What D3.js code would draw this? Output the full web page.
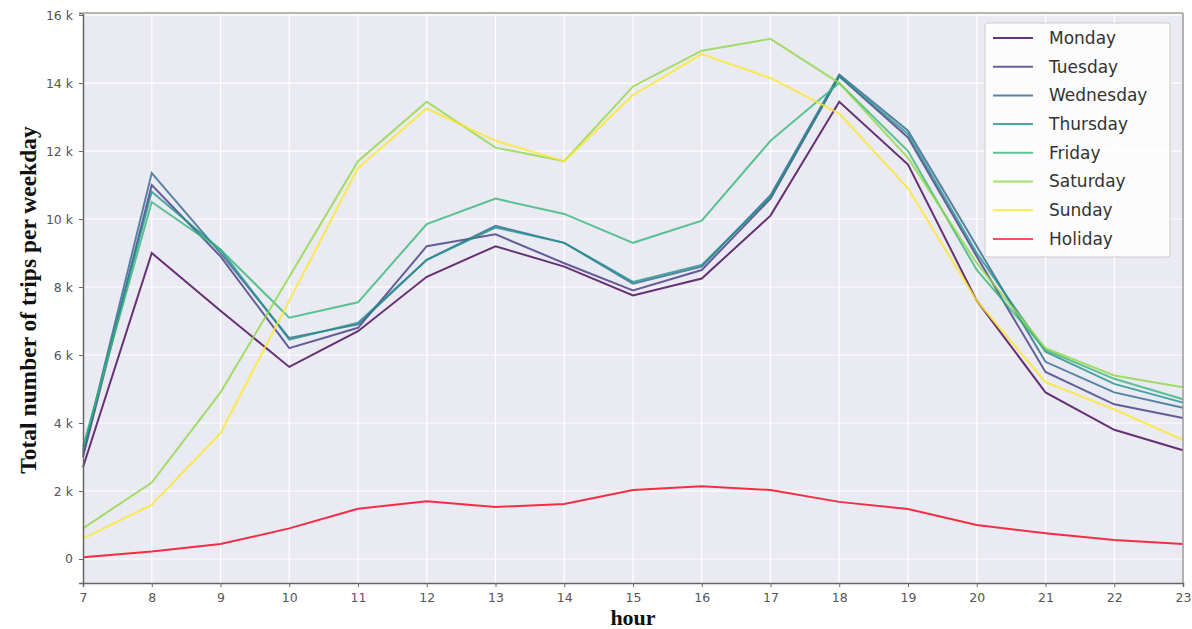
<!DOCTYPE html>
<html>
<head>
<meta charset="utf-8">
<script src="https://cdn.jsdelivr.net/npm/d3@7"></script>
<style>
  body { margin: 0; background: #fff; }
  svg { display: block; }
</style>
</head>
<body>
<svg width="1192" height="629"></svg>
<script>
/* Data */

var hours = [7, 8, 9, 10, 11, 12, 13, 14, 15, 16, 17, 18, 19, 20, 21, 22, 23];
var dayNames = ["Monday", "Tuesday", "Wednesday", "Thursday", "Friday", "Saturday", "Sunday", "Holiday"];

var monday    = [2700, 9000, 7300, 5650, 6700, 8300, 9200, 8600, 7750, 8250, 10100, 13450, 11600, 7600, 4900, 3800, 3200];
var tuesday   = [3000, 11000, 8900, 6200, 6800, 9200, 9550, 8700, 7900, 8500, 10600, 14200, 12400, 8900, 5500, 4550, 4150];
var wednesday = [3100, 11350, 9000, 6500, 6900, 8800, 9800, 9300, 8100, 8600, 10700, 14250, 12600, 9200, 5800, 4900, 4450];
var thursday  = [3200, 10800, 9100, 6450, 6950, 8800, 9750, 9300, 8150, 8650, 10650, 14200, 12500, 9000, 6100, 5150, 4600];
var friday    = [3300, 10500, 9100, 7100, 7550, 9850, 10600, 10150, 9300, 9950, 12300, 14000, 12000, 8500, 6150, 5300, 4700];
var saturday  = [900, 2250, 4900, 8300, 11700, 13450, 12100, 11700, 13900, 14950, 15300, 14000, 11800, 8700, 6200, 5400, 5050];
var sunday    = [600, 1600, 3700, 7600, 11500, 13250, 12300, 11700, 13650, 14850, 14150, 13100, 10900, 7600, 5200, 4400, 3500];
var holiday   = [50, 220, 440, 900, 1480, 1700, 1530, 1620, 2030, 2140, 2030, 1680, 1470, 1000, 760, 560, 440];

var yTicks = [0, 2000, 4000, 6000, 8000, 10000, 12000, 14000, 16000];

var series = [monday, tuesday, wednesday, thursday, friday, saturday, sunday, holiday];

/* Setup */

var svg = d3.select("svg");

var pLeft = 83, pRight = 1183, pTop = 13, pBottom = 583;

var x = d3.scaleLinear().domain([7, 23]).range([pLeft, pRight]);
var y = d3.scaleLinear().domain([-706, 16060]).range([pBottom, pTop]);

var color = (i) => i === 7 ? "#f5233a" : d3.interpolateViridis(i / 6);

// plot background
svg.append("rect")
  .attr("x", pLeft).attr("y", pTop)
  .attr("width", pRight - pLeft).attr("height", pBottom - pTop)
  .attr("fill", "#eaeaf2");

// grid
svg.append("g").selectAll("line")
  .data(hours)
  .enter().append("line")
  .attr("x1", (d) => x(d)).attr("x2", (d) => x(d))
  .attr("y1", pTop).attr("y2", pBottom)
  .attr("stroke", "#fff").attr("stroke-width", 1.2);

svg.append("g").selectAll("line")
  .data(yTicks)
  .enter().append("line")
  .attr("x1", pLeft).attr("x2", pRight)
  .attr("y1", (d) => y(d)).attr("y2", (d) => y(d))
  .attr("stroke", "#fff").attr("stroke-width", 1.2);

/* Lines */

var line = d3.line()
  .x((d, i) => x(hours[i]))
  .y((d) => y(d));

svg.append("g").selectAll("path")
  .data(series)
  .enter().append("path")
  .attr("d", (d) => line(d))
  .attr("fill", "none")
  .attr("stroke", (d, i) => color(i))
  .attr("stroke-opacity", (d, i) => i === 7 ? 0.95 : 0.8)
  .attr("stroke-width", 2);

/* Axes */

var xAxis = svg.append("g")
  .attr("transform", `translate(0,${pBottom})`)
  .call(d3.axisBottom(x).tickValues(hours).tickFormat(d3.format("d")).tickSize(4).tickPadding(6));

var yAxis = svg.append("g")
  .attr("transform", `translate(${pLeft},0)`)
  .call(d3.axisLeft(y).tickValues(yTicks)
    .tickFormat((d) => d === 0 ? "0" : (d / 1000) + " k").tickSize(4).tickPadding(6));

[xAxis, yAxis].forEach((g) => {
  g.select(".domain").attr("stroke", "#666").attr("stroke-width", 1.5);
  g.selectAll(".tick line").attr("stroke", "#666");
  g.selectAll(".tick text")
    .attr("fill", "#555")
    .style("font-family", "DejaVu Sans, sans-serif")
    .style("font-size", "12.5px");
});

// top and right spines
svg.append("line")
  .attr("x1", pLeft).attr("x2", pRight).attr("y1", pTop).attr("y2", pTop)
  .attr("stroke", "#b8b8a8").attr("stroke-width", 2);
svg.append("line")
  .attr("x1", pRight).attr("x2", pRight).attr("y1", pTop).attr("y2", pBottom)
  .attr("stroke", "#999").attr("stroke-width", 1.5);

// axis titles
svg.append("text")
  .attr("x", (pLeft + pRight) / 2).attr("y", 625)
  .attr("text-anchor", "middle")
  .style("font-family", "Liberation Serif, serif")
  .style("font-weight", "bold")
  .style("font-size", "22px")
  .attr("fill", "#111")
  .text("hour");

svg.append("text")
  .attr("transform", `translate(36,300) rotate(-90)`)
  .attr("text-anchor", "middle")
  .style("font-family", "Liberation Serif, serif")
  .style("font-weight", "bold")
  .style("font-size", "23.5px")
  .attr("fill", "#111")
  .text("Total number of trips per weekday");

/* Legend */

var legend = svg.append("g");

legend.append("rect")
  .attr("x", 985).attr("y", 23)
  .attr("width", 185).attr("height", 234)
  .attr("rx", 3)
  .attr("fill", "#fff").attr("fill-opacity", 0.85)
  .attr("stroke", "#ccc");

var rows = legend.selectAll(".row")
  .data(dayNames)
  .enter().append("g")
  .attr("transform", (d, i) => `translate(0,${38 + i * 28.7})`);

rows.append("line")
  .attr("x1", 993).attr("x2", 1033)
  .attr("stroke", (d, i) => color(i))
  .attr("stroke-opacity", 0.8)
  .attr("stroke-width", 2);

rows.append("text")
  .attr("x", 1049).attr("dy", "0.35em")
  .style("font-family", "DejaVu Sans, sans-serif")
  .style("font-size", "17px")
  .attr("fill", "#333")
  .text((d) => d);
</script>
</body>
</html>
